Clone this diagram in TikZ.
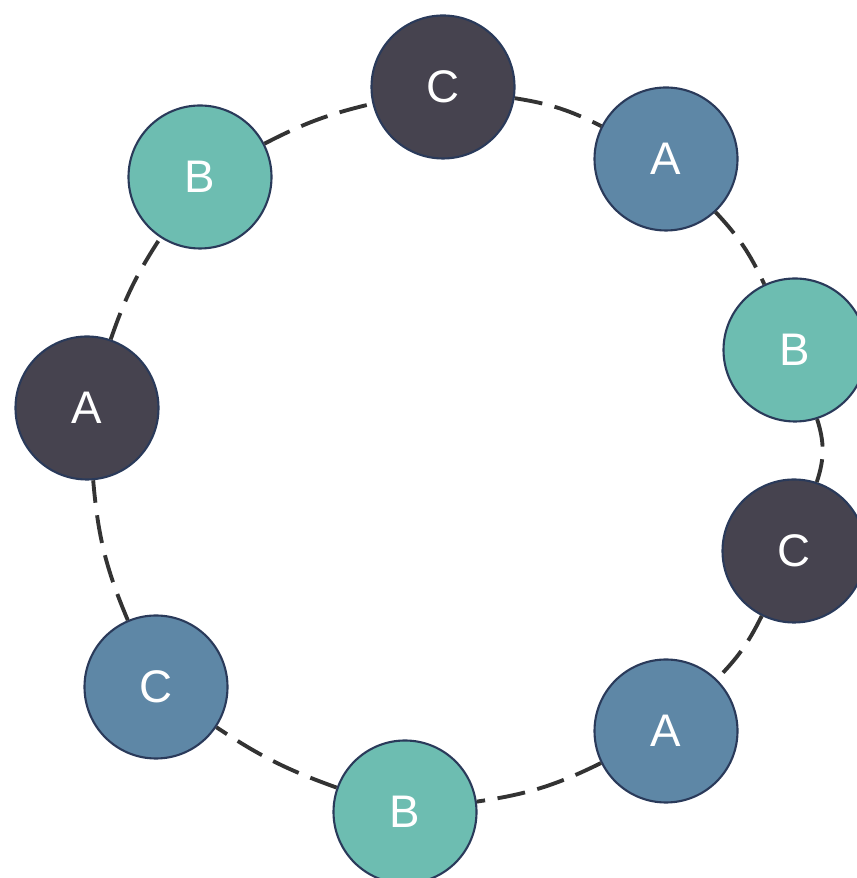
\documentclass[tikz,border=0pt]{standalone}
\usepackage{fontspec}
\setmainfont{Liberation Sans}
\usepackage{tikz}
\definecolor{ringdark}{HTML}{46434F}
\definecolor{ringblue}{HTML}{5E87A6}
\definecolor{ringteal}{HTML}{6DBDB1}
\definecolor{ringline}{HTML}{2A3A5A}
\tikzset{main node/.style={circle,draw=ringline,line width=.6pt,minimum size=1.43cm,inner sep=0pt,text=white,font=\fontsize{13}{15}\selectfont},
dark node/.style={main node,fill=ringdark},
blue node/.style={main node,fill=ringblue},
teal node/.style={main node,fill=ringteal},
ring line/.style={draw=black!80,line width=1.1pt,dash pattern=on 8pt off 3.6pt},}

\begin{document}
\begin{tikzpicture}
    \useasboundingbox (0,0) rectangle (8.56,8.78);
    \node[dark node] (1) at (4.43,7.91) {C};
    \node[blue node] (2) at (6.66,7.19) {A};
    \node[teal node] (3) at (7.95,5.28) {B};
    \node[dark node] (4) at (7.94,3.27) {C};
    \node[blue node] (5) at (6.66,1.47) {A};
    \node[teal node] (6) at (4.05,0.66) {B};
    \node[blue node] (7) at (1.56,1.91) {C};
    \node[dark node] (8) at (0.87,4.70) {A};
    \node[teal node] (9) at (2.00,7.01) {B};

    \path[ring line]
    (1) edge[bend left=9] node {} (2)
    (2) edge[bend left=9] node {} (3)
    (3) edge[bend left=18] node {} (4)
    (4) edge[bend left=9] node {} (5)
    (5) edge[bend left=9] node {} (6)
    (6) edge[bend left=7] node {} (7)
    (7) edge[bend left=9] node {} (8)
    (8) edge[bend left=7] node {} (9)
    (9) edge[bend left=7] node {} (1)
    ;
\end{tikzpicture}
\end{document}
